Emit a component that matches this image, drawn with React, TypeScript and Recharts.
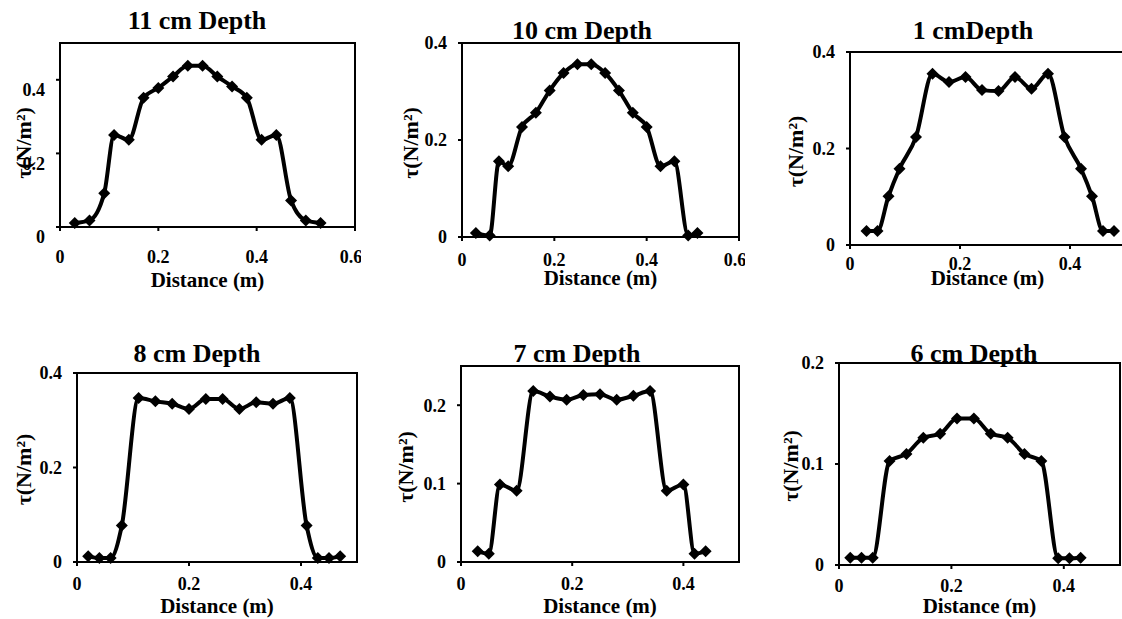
import React from 'react'
import { LineChart, Line, XAxis, YAxis, ReferenceArea } from 'recharts'

// distance across the section (m) and bed shear stress tau (N/m²), one pair per depth
const dist11 = [0.03, 0.06, 0.09, 0.11, 0.14, 0.17, 0.2, 0.23, 0.26, 0.29, 0.32, 0.35, 0.38, 0.41, 0.44, 0.47, 0.5, 0.53]
const tau11 = [0.011, 0.018, 0.092, 0.25, 0.237, 0.351, 0.378, 0.409, 0.438, 0.438, 0.409, 0.382, 0.351, 0.237, 0.25, 0.072, 0.018, 0.011]

const dist10 = [0.03, 0.06, 0.08, 0.1, 0.13, 0.16, 0.19, 0.22, 0.25, 0.28, 0.31, 0.34, 0.37, 0.4, 0.43, 0.46, 0.49, 0.51]
const tau10 = [0.008, 0.003, 0.156, 0.146, 0.227, 0.256, 0.302, 0.338, 0.356, 0.356, 0.338, 0.302, 0.256, 0.227, 0.146, 0.156, 0.003, 0.008]

const dist1 = [0.03, 0.05, 0.07, 0.09, 0.12, 0.15, 0.18, 0.21, 0.24, 0.27, 0.3, 0.33, 0.36, 0.39, 0.42, 0.44, 0.46, 0.48]
const tau1 = [0.029, 0.029, 0.101, 0.158, 0.224, 0.355, 0.338, 0.348, 0.321, 0.319, 0.348, 0.324, 0.355, 0.224, 0.158, 0.101, 0.029, 0.029]

const dist8 = [0.02, 0.04, 0.06, 0.08, 0.11, 0.14, 0.17, 0.2, 0.23, 0.26, 0.29, 0.32, 0.35, 0.38, 0.41, 0.43, 0.45, 0.47]
const tau8 = [0.012, 0.0085, 0.0085, 0.077, 0.347, 0.34, 0.335, 0.324, 0.345, 0.345, 0.324, 0.338, 0.335, 0.347, 0.077, 0.0085, 0.0085, 0.012]

const dist7 = [0.03, 0.05, 0.07, 0.1, 0.13, 0.16, 0.19, 0.22, 0.25, 0.28, 0.31, 0.34, 0.37, 0.4, 0.42, 0.44]
const tau7 = [0.0136, 0.0106, 0.099, 0.091, 0.218, 0.211, 0.207, 0.213, 0.214, 0.207, 0.212, 0.218, 0.091, 0.099, 0.0106, 0.0136]

const dist6 = [0.02, 0.04, 0.06, 0.09, 0.12, 0.15, 0.18, 0.21, 0.24, 0.27, 0.3, 0.33, 0.36, 0.39, 0.41, 0.43]
const tau6 = [0.0072, 0.0072, 0.0072, 0.103, 0.11, 0.126, 0.13, 0.145, 0.145, 0.13, 0.126, 0.11, 0.103, 0.0066, 0.0066, 0.0072]

const xTicksWide = [0, 0.2, 0.4, 0.6]
const xTicksNarrow = [0, 0.2, 0.4]
const yTicksBig = [0, 0.2, 0.4]
const yTicksSmall = [0, 0.1, 0.2]

const FONT = '"Liberation Serif", "Times New Roman", serif'
const YW = 70 // y axis band
const MT = 10
const MR = 6
const XH = 72

type Panel = {
  title: string
  xs: number[]
  ys: number[]
  xMax: number
  yMax: number
  xTicks: number[]
  yTicks: number[]
  box: number[] // left, top, right, bottom (px)
  titleAt: number[] // centre x, baseline
  xTickBase: number
  xTitleBase: number
  yTickShift: number
  yTitleGap: number
  yTitleShift: number
}

const panels: Panel[] = [
  { title: '11 cm Depth', xs: dist11, ys: tau11, xMax: 0.6, yMax: 0.5, xTicks: xTicksWide, yTicks: yTicksBig,
    box: [60, 43, 355, 227], titleAt: [197, 30], xTickBase: 36, xTitleBase: 60, yTickShift: 10, yTitleGap: 37, yTitleShift: 8 },
  { title: '10 cm Depth', xs: dist10, ys: tau10, xMax: 0.6, yMax: 0.4, xTicks: xTicksWide, yTicks: yTicksBig,
    box: [462, 43, 739, 237], titleAt: [582, 40], xTickBase: 29, xTitleBase: 48, yTickShift: 0, yTitleGap: 52, yTitleShift: 3 },
  { title: '1 cmDepth', xs: dist1, ys: tau1, xMax: 0.5, yMax: 0.4, xTicks: xTicksNarrow, yTicks: yTicksBig,
    box: [850, 52, 1125, 245], titleAt: [973, 40], xTickBase: 25, xTitleBase: 40, yTickShift: 0, yTitleGap: 55, yTitleShift: 3 },
  { title: '8 cm Depth', xs: dist8, ys: tau8, xMax: 0.5, yMax: 0.4, xTicks: xTicksNarrow, yTicks: yTicksBig,
    box: [77, 373, 357, 562], titleAt: [197, 363], xTickBase: 28, xTitleBase: 51, yTickShift: 0, yTitleGap: 54, yTitleShift: 2 },
  { title: '7 cm Depth', xs: dist7, ys: tau7, xMax: 0.5, yMax: 0.25, xTicks: xTicksNarrow, yTicks: yTicksSmall,
    box: [461, 366, 739, 562], titleAt: [577, 363], xTickBase: 28, xTitleBase: 51, yTickShift: 0, yTitleGap: 56, yTitleShift: 3 },
  { title: '6 cm Depth', xs: dist6, ys: tau6, xMax: 0.5, yMax: 0.2, xTicks: xTicksNarrow, yTicks: yTicksSmall,
    box: [839, 363, 1120, 565], titleAt: [974, 363], xTickBase: 27, xTitleBase: 48, yTickShift: 0, yTitleGap: 49, yTitleShift: 2 },
]

const fmt = (v: number) => String(v)

const Diamond = (props: any) => {
  const { cx, cy, index } = props
  if (cx == null || cy == null) return <g key={`d-${index}`} />
  const r = 6
  return <path key={`d-${index}`} d={`M${cx} ${cy - r}L${cx + r} ${cy}L${cx} ${cy + r}L${cx - r} ${cy}Z`} fill='#000' />
}

const XTitle = (props: any) => {
  const { viewBox, base } = props
  return (
    <text x={viewBox.x + viewBox.width / 2} y={viewBox.y + base} textAnchor='middle'
      fontFamily={FONT} fontWeight='bold' fontSize={21} fill='#000'>
      Distance (m)
    </text>
  )
}

const YTitle = (props: any) => {
  const { viewBox, gap, shift } = props
  const cx = viewBox.x + viewBox.width - gap
  const cy = viewBox.y + viewBox.height / 2 + shift
  return (
    <text x={cx} y={cy} dy='0.35em' transform={`rotate(-90 ${cx} ${cy})`} textAnchor='middle'
      fontFamily={FONT} fontWeight='bold' fontSize={22} fill='#000'>
      τ(N/m²)
    </text>
  )
}

function DepthChart({ p }: { p: Panel }) {
  const [l, t, r, b] = p.box
  const width = r - l + YW + MR
  const height = b - t + MT + XH
  const data = p.xs.map((x, i) => ({ x, y: p.ys[i] }))
  return (
    <div style={{ position: 'absolute', left: l - YW, top: t - MT, width, height }}>
      <LineChart width={width} height={height} data={data} margin={{ top: MT, right: MR, bottom: 0, left: 0 }}>
        <XAxis
          dataKey='x' type='number' domain={[0, p.xMax]} ticks={p.xTicks} height={XH}
          axisLine={{ stroke: '#000', strokeWidth: 2 }} tickLine={{ stroke: '#000', strokeWidth: 2 }}
          tickSize={4} tickMargin={0}
          tick={(tp: any) => (
            <text key={`xt-${tp.index}`} x={tp.x} y={tp.y - 4 + p.xTickBase} textAnchor='middle'
              fontFamily={FONT} fontWeight='bold' fontSize={18} fill='#000'>
              {fmt(tp.payload.value)}
            </text>
          )}
          label={<XTitle base={p.xTitleBase} />}
        />
        <YAxis
          type='number' domain={[0, p.yMax]} ticks={p.yTicks} width={YW}
          axisLine={{ stroke: '#000', strokeWidth: 2 }} tickLine={{ stroke: '#000', strokeWidth: 2 }}
          tickSize={4} tickMargin={11}
          tick={(tp: any) => (
            <text key={`yt-${tp.index}`} x={tp.x} y={tp.y + p.yTickShift} dy='0.35em' textAnchor='end'
              fontFamily={FONT} fontWeight='bold' fontSize={18} fill='#000'>
              {fmt(tp.payload.value)}
            </text>
          )}
          label={<YTitle gap={p.yTitleGap} shift={p.yTitleShift} />}
        />
        <ReferenceArea x1={0} x2={p.xMax} y1={0} y2={p.yMax} fill='none' stroke='#000' strokeWidth={2} ifOverflow='visible' />
        <Line
          type='monotone' dataKey='y' stroke='#000' strokeWidth={4}
          dot={Diamond} activeDot={false} isAnimationActive={false}
        />
      </LineChart>
    </div>
  )
}

export default function App() {
  return (
    <div style={{ position: 'absolute', left: 0, top: 0, width: 1122, height: 619, overflow: 'hidden', background: '#fff' }}>
      {panels.map((p) => (
        <DepthChart key={p.title} p={p} />
      ))}
      {panels.map((p) => (
        <div key={`t-${p.title}`} style={{
          position: 'absolute', left: p.titleAt[0] - 150, top: p.titleAt[1] - 22, width: 300,
          textAlign: 'center', fontFamily: FONT, fontWeight: 'bold', fontSize: 26, lineHeight: '26px',
          color: '#000', whiteSpace: 'nowrap',
        }}>
          {p.title}
        </div>
      ))}
    </div>
  )
}
